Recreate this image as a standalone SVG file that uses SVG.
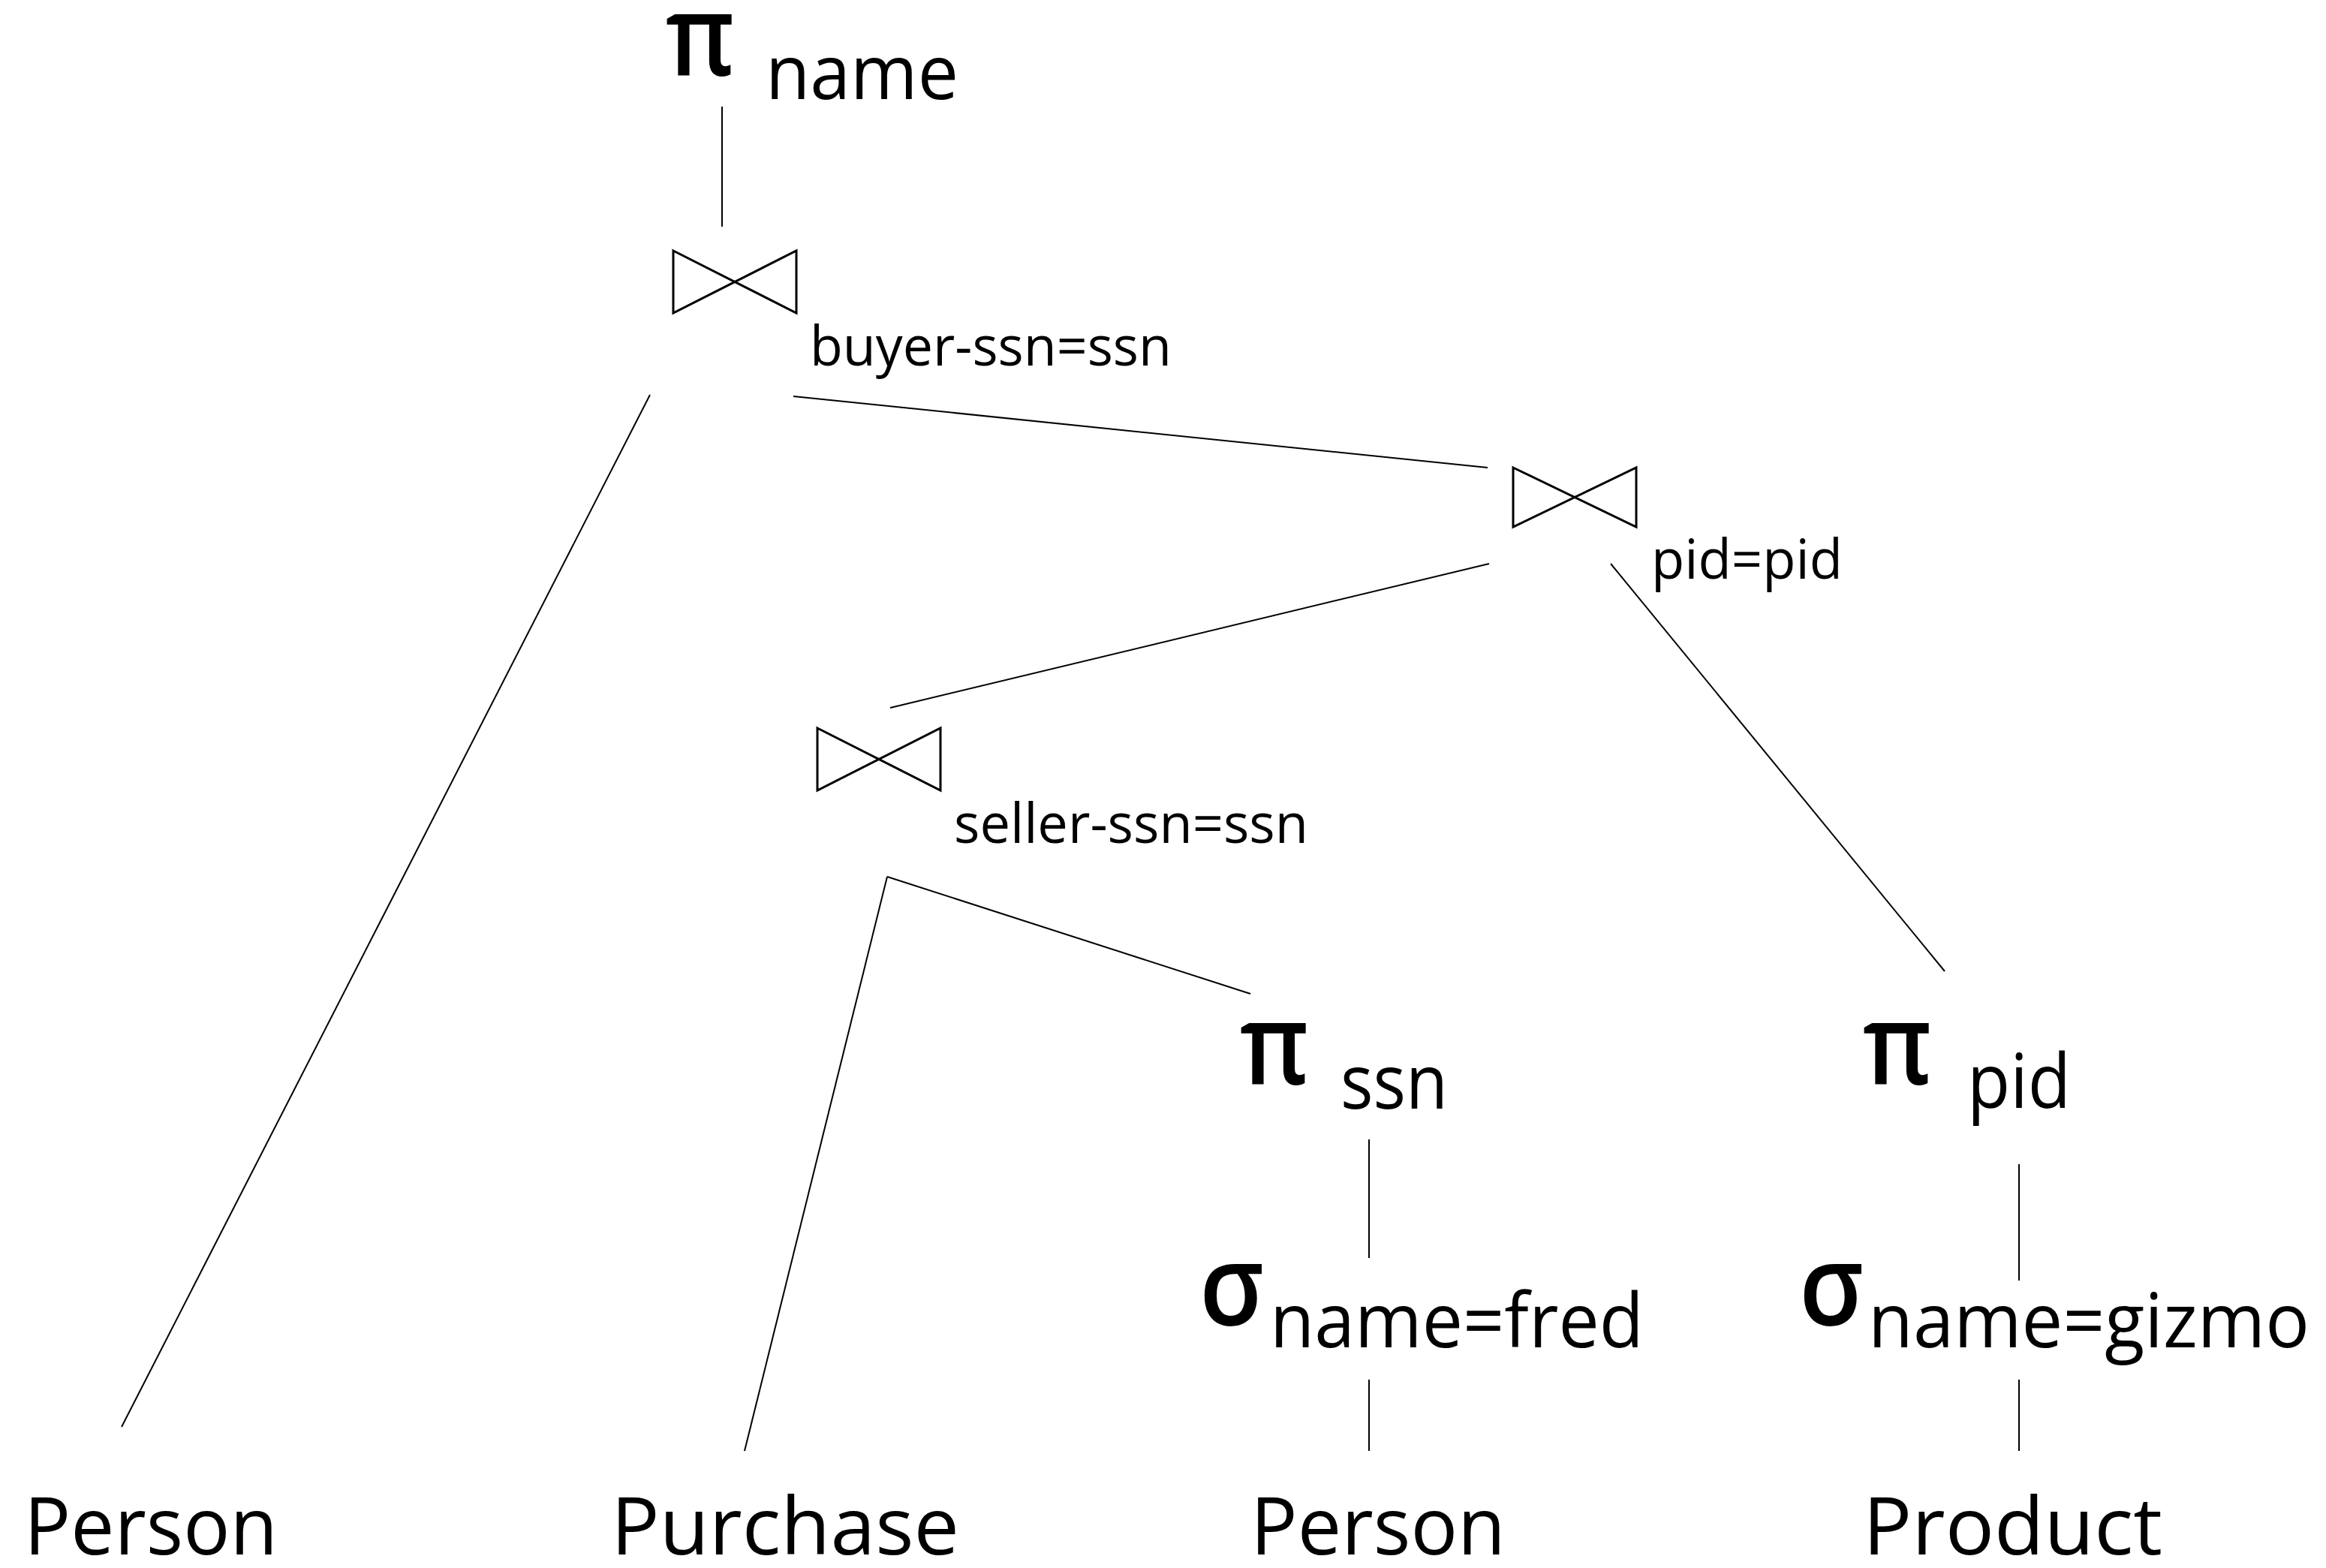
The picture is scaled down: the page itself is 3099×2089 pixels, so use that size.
<svg xmlns="http://www.w3.org/2000/svg" width="3099" height="2089" viewBox="0 0 3099 2089">
<style>
text{font-family:"Open Sans","Noto Sans",sans-serif;fill:#000}
.g{font-size:150px;font-weight:600}
.sub{font-size:101px}
.lbl{font-size:74px}
.leaf{font-size:107px}
.bt{fill:none;stroke:#000;stroke-width:3;stroke-linejoin:miter}
.e{stroke:#000;stroke-width:2;fill:none}
</style>
<rect width="3099" height="2089" fill="#fff"/>
<g id="connectors">
<line class="e" x1="962" y1="142" x2="962" y2="302"/>
<line class="e" x1="866" y1="526" x2="162" y2="1901"/>
<line class="e" x1="1057" y1="528" x2="1982" y2="623"/>
<line class="e" x1="1984" y1="751" x2="1186" y2="943"/>
<line class="e" x1="2146" y1="751" x2="2591" y2="1294"/>
<line class="e" x1="1182" y1="1168" x2="992" y2="1933"/>
<line class="e" x1="1182" y1="1168" x2="1666" y2="1324"/>
<line class="e" x1="1824" y1="1518" x2="1824" y2="1676"/>
<line class="e" x1="1824" y1="1838" x2="1824" y2="1933"/>
<line class="e" x1="2690" y1="1551" x2="2690" y2="1706"/>
<line class="e" x1="2690" y1="1838" x2="2690" y2="1933"/>
</g>
<g id="proj-name">
<text class="g" x="887" y="101" textLength="92" lengthAdjust="spacingAndGlyphs">π</text>
<text class="sub" x="1020" y="132" textLength="257" lengthAdjust="spacingAndGlyphs">name</text>
</g>
<g id="join-buyer">
<path class="bt" d="M897 334 L1061 417 L1061 334 L897 417 Z"/>
<text class="lbl" x="1079" y="487" textLength="482" lengthAdjust="spacingAndGlyphs">buyer-ssn=ssn</text>
</g>
<g id="join-pid">
<path class="bt" d="M2016 623 L2180 702 L2180 623 L2016 702 Z"/>
<text class="lbl" x="2200" y="771" textLength="255" lengthAdjust="spacingAndGlyphs">pid=pid</text>
</g>
<g id="join-seller">
<path class="bt" d="M1089 970 L1253 1053 L1253 970 L1089 1053 Z"/>
<text class="lbl" x="1271" y="1123" textLength="472" lengthAdjust="spacingAndGlyphs">seller-ssn=ssn</text>
</g>
<g id="proj-ssn">
<text class="g" x="1652" y="1445" textLength="92" lengthAdjust="spacingAndGlyphs">π</text>
<text class="sub" x="1786" y="1477" textLength="143" lengthAdjust="spacingAndGlyphs">ssn</text>
</g>
<g id="sel-fred">
<text class="g" x="1598" y="1766" textLength="86" lengthAdjust="spacingAndGlyphs">σ</text>
<text class="sub" x="1692" y="1795" textLength="498" lengthAdjust="spacingAndGlyphs">name=fred</text>
</g>
<g id="proj-pid">
<text class="g" x="2482" y="1445" textLength="92" lengthAdjust="spacingAndGlyphs">π</text>
<text class="sub" x="2621" y="1476" textLength="138" lengthAdjust="spacingAndGlyphs">pid</text>
</g>
<g id="sel-gizmo">
<text class="g" x="2397" y="1766" textLength="86" lengthAdjust="spacingAndGlyphs">σ</text>
<text class="sub" x="2489" y="1795" textLength="588" lengthAdjust="spacingAndGlyphs">name=gizmo</text>
</g>
<g id="person1"><text class="leaf" x="32" y="2071" textLength="338" lengthAdjust="spacingAndGlyphs">Person</text></g>
<g id="purchase"><text class="leaf" x="814" y="2071" textLength="464" lengthAdjust="spacingAndGlyphs">Purchase</text></g>
<g id="person2"><text class="leaf" x="1666" y="2071" textLength="340" lengthAdjust="spacingAndGlyphs">Person</text></g>
<g id="product"><text class="leaf" x="2482" y="2071" textLength="399" lengthAdjust="spacingAndGlyphs">Product</text></g>
</svg>
